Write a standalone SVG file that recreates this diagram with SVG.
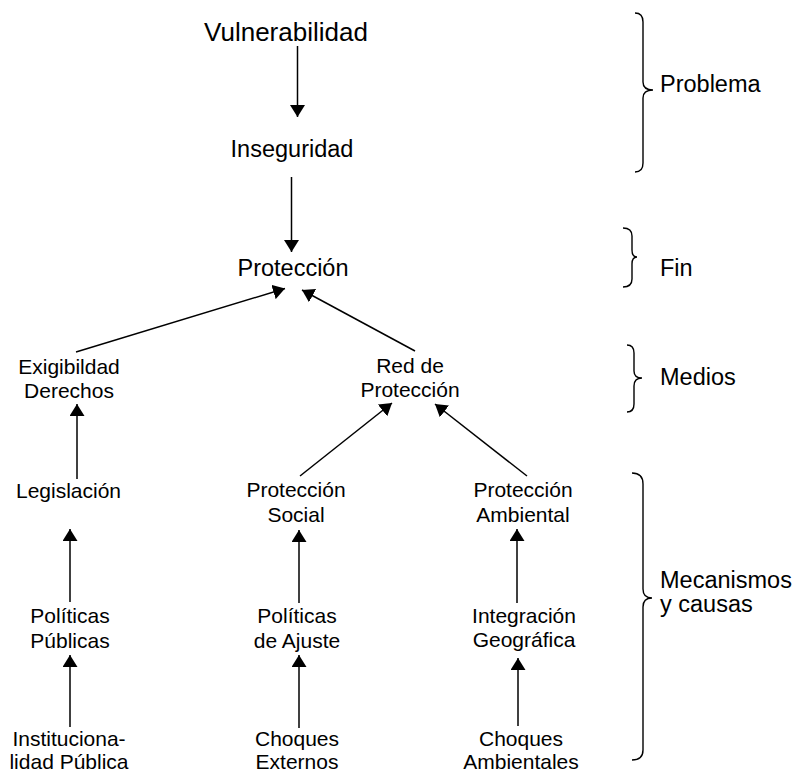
<svg xmlns="http://www.w3.org/2000/svg" width="795" height="773" viewBox="0 0 795 773">
<style>
text{font-family:"Liberation Sans",Arial,sans-serif;fill:#000;text-anchor:middle}
.big{font-size:26px}
.mid{font-size:23.5px}
.sm{font-size:21px}
.lbl{font-size:23.5px;text-anchor:start}
.c line{stroke:#000;stroke-width:1.5;marker-end:url(#ah)}
.br path{fill:none;stroke:#000;stroke-width:1.4}
</style>
<defs>
<marker id="ah" markerUnits="userSpaceOnUse" viewBox="0 0 12 15" refX="12" refY="7.5" markerWidth="12" markerHeight="15" orient="auto">
<path d="M0,0 L12,7.5 L0,15 z" fill="#000"/>
</marker>
</defs>
<rect width="795" height="773" fill="#fff"/>
<g id="n-vulnerabilidad"><text class="big" x="286" y="41">Vulnerabilidad</text></g>
<g id="n-inseguridad"><text class="mid" x="292" y="157">Inseguridad</text></g>
<g id="n-proteccion"><text class="mid" x="293" y="276">Protección</text></g>
<g id="n-exigibilidad"><text class="sm" x="69" y="374">Exigibildad</text><text class="sm" x="69" y="398">Derechos</text></g>
<g id="n-red"><text class="sm" x="410" y="373">Red de</text><text class="sm" x="410" y="397">Protección</text></g>
<g id="n-legislacion"><text class="sm" x="68.5" y="498">Legislación</text></g>
<g id="n-psocial"><text class="sm" x="296" y="497">Protección</text><text class="sm" x="296" y="522">Social</text></g>
<g id="n-pambiental"><text class="sm" x="523" y="497">Protección</text><text class="sm" x="523" y="522">Ambiental</text></g>
<g id="n-ppublicas"><text class="sm" x="70" y="623">Políticas</text><text class="sm" x="70" y="648">Públicas</text></g>
<g id="n-pajuste"><text class="sm" x="297" y="623">Políticas</text><text class="sm" x="297" y="648">de Ajuste</text></g>
<g id="n-integracion"><text class="sm" x="524" y="623">Integración</text><text class="sm" x="524" y="647">Geográfica</text></g>
<g id="n-institucionalidad"><text class="sm" x="69" y="746">Instituciona-</text><text class="sm" x="69" y="768.5">lidad Pública</text></g>
<g id="n-cexternos"><text class="sm" x="297" y="746">Choques</text><text class="sm" x="297" y="768.5">Externos</text></g>
<g id="n-cambientales"><text class="sm" x="521" y="746">Choques</text><text class="sm" x="521" y="768.5">Ambientales</text></g>
<g id="connectors" class="c">
<line x1="297.5" y1="46" x2="297.5" y2="117"/>
<line x1="291.5" y1="177" x2="291.5" y2="252"/>
<line x1="76" y1="352" x2="285" y2="288.5"/>
<line x1="415" y1="351" x2="302" y2="290"/>
<line x1="77" y1="479" x2="77" y2="404"/>
<line x1="300" y1="476" x2="392" y2="403"/>
<line x1="527" y1="476" x2="435" y2="404"/>
<line x1="70" y1="602" x2="70" y2="529"/>
<line x1="299" y1="603" x2="299" y2="530"/>
<line x1="517" y1="603" x2="517" y2="529"/>
<line x1="70" y1="727" x2="70" y2="655"/>
<line x1="299" y1="728" x2="299" y2="655"/>
<line x1="518" y1="726" x2="518" y2="658"/>
</g>
<g id="brackets" class="br">
<path d="M635,13 Q643,13 643,22 L643,82 Q643,90 653,90 Q643,90 643,98 L643,163 Q643,172 635,172"/>
<path d="M623,228 Q632,228 632,236 L632,250 Q632,257 637,257 Q632,257 632,264 L632,279 Q632,287 623,287"/>
<path d="M627,345 Q634,345 634,353 L634,371 Q634,378 642,378 Q634,378 634,386 L634,404 Q634,412 627,412"/>
<path d="M632,473 Q643,473 643,484 L643,589 Q643,598 652,598 Q643,598 643,607 L643,750 Q643,760 632,760"/>
</g>
<g id="labels">
<text class="lbl" x="660" y="92">Problema</text>
<text class="lbl" x="660" y="276">Fin</text>
<text class="lbl" x="660" y="385">Medios</text>
<text class="lbl" x="660" y="588">Mecanismos</text>
<text class="lbl" x="660" y="612">y causas</text>
</g>
</svg>
